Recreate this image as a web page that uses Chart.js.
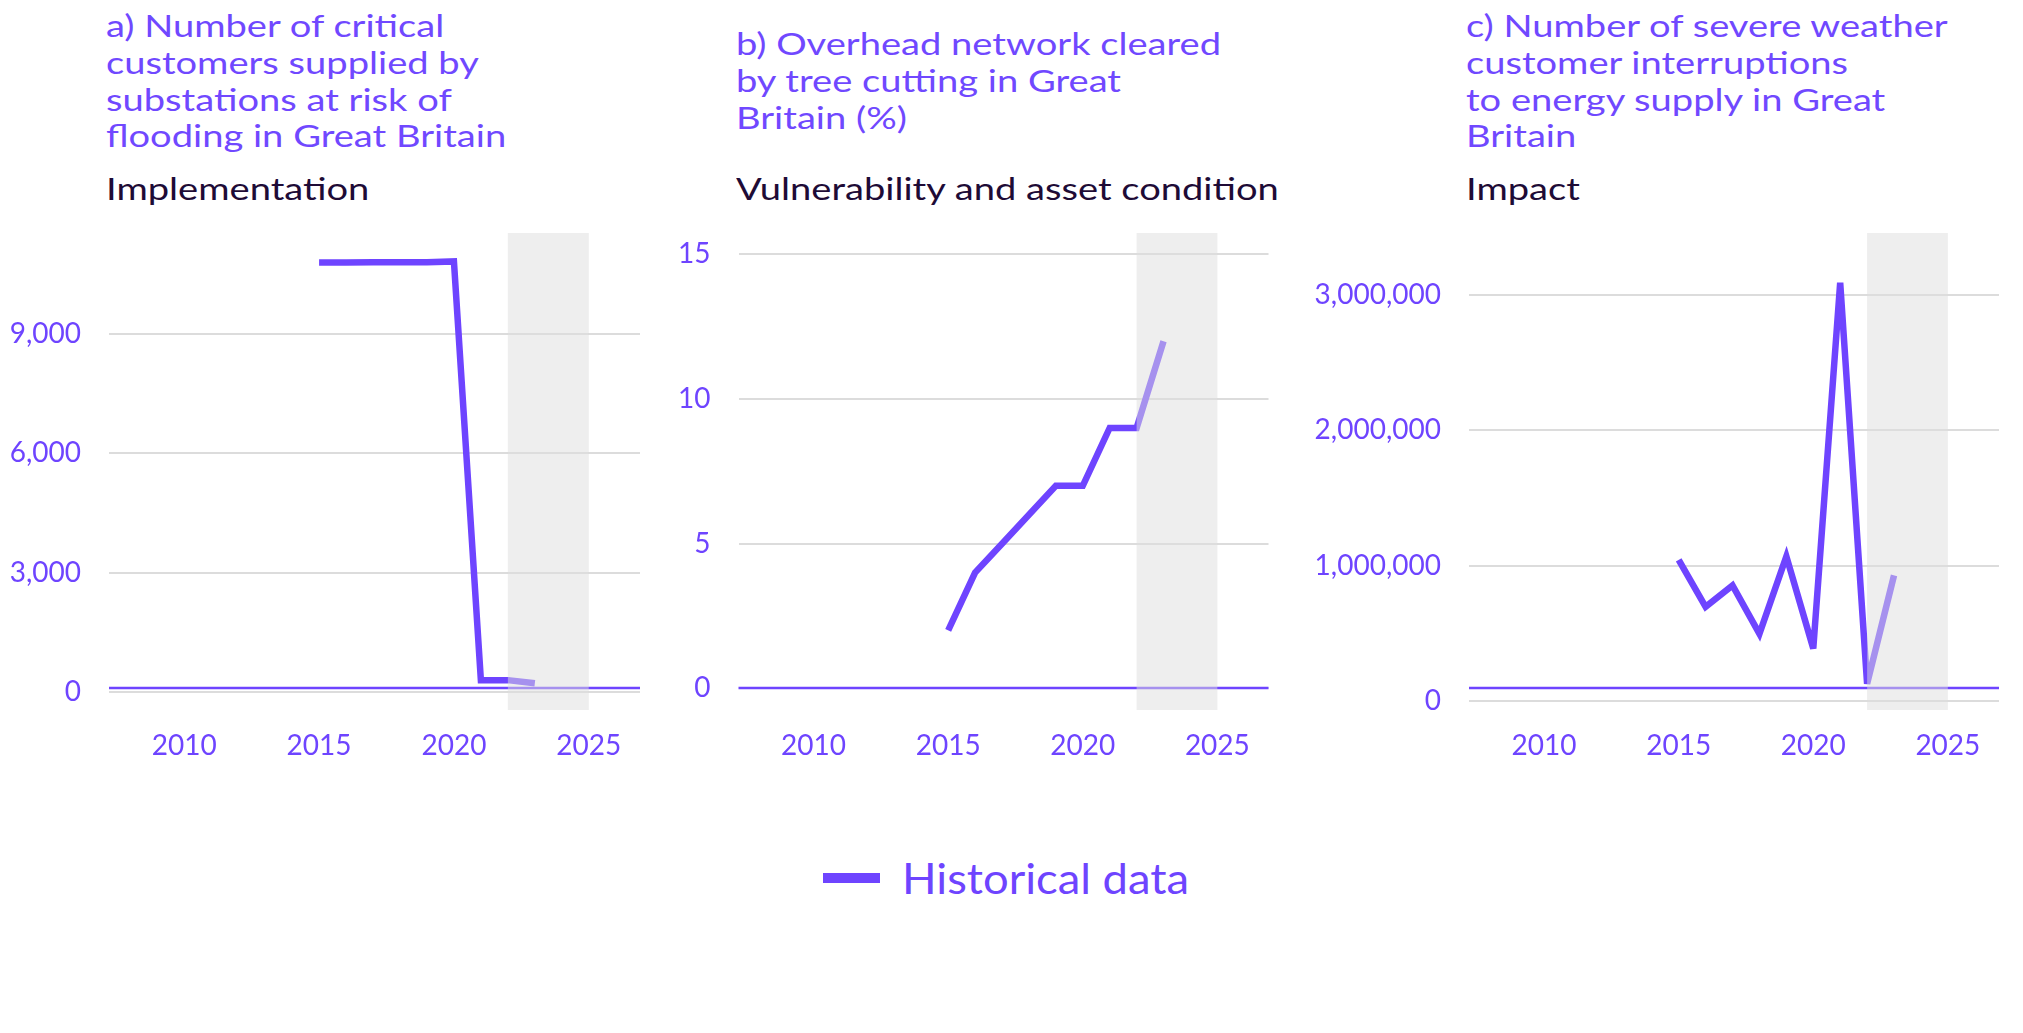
<!DOCTYPE html>
<html lang="en">
  <head>
    <meta charset="UTF-8" />
    <title>Energy network indicators</title>
    <script src="https://cdn.jsdelivr.net/npm/chart.js"></script>
    <style>
      body {
        margin: 0;
        width: 2023px;
        height: 1033px;
        background: #fff;
        font-family: Lato, sans-serif;
        position: relative;
        overflow: hidden;
      }
      .title,
      .sub {
        position: absolute;
        font-size: 30px;
        line-height: 36.8px;
        white-space: nowrap;
        transform: scaleX(1.27);
        transform-origin: left top;
      }
      .title {
        color: #7048ff;
      }
      .sub {
        top: 170px;
        color: #1e0b36;
        line-height: 36px;
      }
      .panel {
        position: absolute;
        top: 200px;
        height: 580px;
      }
      #legend {
        position: absolute;
        left: 823px;
        top: 853px;
        display: flex;
        align-items: center;
        color: #6e44ff;
        font-size: 42px;
      }
      #legend .swatch {
        width: 57px;
        height: 10px;
        background: #6e44ff;
        margin-right: 22px;
      }
      #legend .txt {
        display: inline-block;
        transform: scaleX(1.08);
        transform-origin: left center;
      }
    </style>
  </head>
  <body>
    <div class="title" style="left: 106px; top: 7px">a) Number of critical<br />customers supplied by<br />substations at risk of<br />flooding in Great Britain</div>
    <div class="sub" style="left: 106px">Implementation</div>
    <div class="title" style="left: 736px; top: 25px">b) Overhead network cleared<br />by tree cutting in Great<br />Britain (%)</div>
    <div class="sub" style="left: 736px">Vulnerability and asset condition</div>
    <div class="title" style="left: 1466px; top: 7px">c) Number of severe weather<br />customer interruptions<br />to energy supply in Great<br />Britain</div>
    <div class="sub" style="left: 1466px">Impact</div>

    <div class="panel" style="left: 0px; width: 660px"><canvas id="chartA"></canvas></div>
    <div class="panel" style="left: 680px; width: 610px"><canvas id="chartB"></canvas></div>
    <div class="panel" style="left: 1290px; width: 733px"><canvas id="chartC"></canvas></div>

    <div id="legend"><span class="swatch"></span><span class="txt">Historical data</span></div>

    <script>
      const years = [2015, 2016, 2017, 2018, 2019, 2020, 2021, 2022, 2023];
      const floodCustomers = [10790, 10790, 10800, 10800, 10800, 10820, 300, 300, 220];
      const treeCutting = [2, 4, 5, 6, 7, 7, 9, 9, 12];
      const weatherInterruptions = [1045000, 698000, 856000, 498000, 1070000, 390000, 3090000, 130000, 930000];

      const xTicks = [2010, 2015, 2020, 2025];
      const floodTicks = [0, 3000, 6000, 9000];
      const treeTicks = [0, 5, 10, 15];
      const weatherTicks = [0, 1000000, 2000000, 3000000];
      const futureBand = [2022, 2025];

      const purple = "#6e44ff";

      const bandPlugin = {
        id: "band",
        beforeDatasetsDraw(chart) {
          // baseline drawn a fixed distance above the plot bottom
          const { ctx, chartArea } = chart;
          const y = chartArea.bottom - 22;
          ctx.save();
          ctx.strokeStyle = purple;
          ctx.lineWidth = 2.5;
          ctx.beginPath();
          ctx.moveTo(chartArea.left, y);
          ctx.lineTo(chartArea.right, y);
          ctx.stroke();
          ctx.restore();
          ctx.miterLimit = 4; // sharp joins get bevelled, like svg default
        },
        afterDatasetsDraw(chart) {
          const { ctx, chartArea } = chart;
          const xs = chart.scales.x;
          const x1 = xs.getPixelForValue(futureBand[0]);
          const x2 = xs.getPixelForValue(futureBand[1]);
          ctx.save();
          ctx.fillStyle = "rgba(221, 221, 221, 0.5)";
          ctx.fillRect(x1, chartArea.top, x2 - x1, chartArea.bottom - chartArea.top);
          ctx.restore();
        },
      };

      function makeChart(id, values, yTicks, yMin, yMax, axisWidth, padRight) {
        return new Chart(document.getElementById(id), {
          type: "line",
          data: {
            labels: years,
            datasets: [
              {
                label: "Historical data",
                data: years.map((yr, i) => ({ x: yr, y: values[i] })),
                borderColor: purple,
                borderWidth: 6.5,
                pointRadius: 0,
                tension: 0,
                clip: false,
              },
            ],
          },
          options: {
            responsive: true,
            maintainAspectRatio: false,
            animation: false,
            layout: { padding: { top: 33, right: padRight, left: 0, bottom: 0 } },
            plugins: { legend: { display: false }, tooltip: { enabled: false } },
            scales: {
              x: {
                type: "linear",
                min: 2007.21,
                max: 2026.9,
                afterBuildTicks: (s) => {
                  s.ticks = xTicks.map((v) => ({ value: v }));
                },
                afterFit: (s) => {
                  s.height = 70;
                  s.paddingLeft = 0;
                  s.paddingRight = 0;
                },
                grid: { display: false, drawTicks: false },
                border: { display: false },
                ticks: {
                  color: purple,
                  padding: 19,
                  font: { family: "Lato", size: 28 },
                  callback: (v) => String(v),
                },
              },
              y: {
                min: yMin,
                max: yMax,
                afterBuildTicks: (s) => {
                  s.ticks = yTicks.map((v) => ({ value: v }));
                },
                afterFit: (s) => {
                  s.width = axisWidth;
                  s.paddingTop = 0;
                  s.paddingBottom = 0;
                },
                grid: { color: "#dcdcdc", lineWidth: 2, drawTicks: false },
                border: { display: false },
                ticks: {
                  color: purple,
                  padding: 28,
                  font: { family: "Lato", size: 28 },
                  callback: (v) => v.toLocaleString("en-US"),
                },
              },
            },
          },
          plugins: [bandPlugin],
        });
      }

      makeChart("chartA", floodCustomers, floodTicks, -450, 11533, 109, 20);
      makeChart("chartB", treeCutting, treeTicks, -0.75, 15.74, 58.5, 21.5);
      makeChart("chartC", weatherInterruptions, weatherTicks, -64000, 3458000, 179, 24);
    </script>
  </body>
</html>
